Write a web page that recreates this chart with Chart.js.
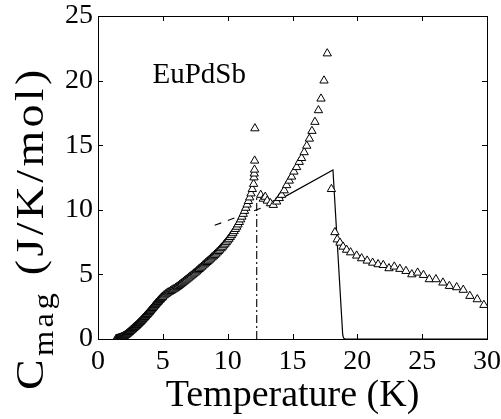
<!DOCTYPE html>
<html>
<head>
<meta charset="utf-8">
<title>EuPdSb magnetic specific heat</title>
<script src="https://cdn.jsdelivr.net/npm/chart.js@4/dist/chart.umd.min.js"></script>
<style>
  html, body { margin: 0; padding: 0; background: #fff; }
  #wrap { width: 501px; height: 419px; position: relative; }
</style>
</head>
<body>
<div id="wrap"><canvas id="cmag"></canvas></div>
<script>
// measured data, dense low-T run (K, J/K/mol)
const lowT = [1.40,1.45,1.50,1.55,1.60,1.65,1.70,1.75,1.80,1.85,1.90,1.95,2.00,2.05,2.10,2.15,2.20,2.25,2.30,2.35,
  2.40,2.45,2.50,2.55,2.60,2.65,2.70,2.75,2.80,2.85,2.90,2.95,3.00,3.05,3.10,3.15,3.20,3.25,3.30,3.35,
  3.40,3.45,3.50,3.55,3.60,3.65,3.70,3.75,3.80,3.85,3.90,3.95,4.00,4.05,4.10,4.15,4.20,4.25,4.30,4.35,
  4.40,4.45,4.50,4.55,4.60,4.65,4.70,4.75,4.80,4.85,4.90,4.95,
  5.0,5.1,5.2,5.3,5.4,5.5,5.6,5.7,5.8,5.9,6.0,6.1,6.2,6.3,6.4,6.5,6.6,6.7,6.8,6.9,
  7.0,7.1,7.2,7.3,7.4,7.5,7.6,7.7,7.8,7.9,8.0,8.1,8.2,8.3,8.4,8.5,8.6,8.7,8.8,8.9,
  9.0,9.1,9.2,9.3,9.4,9.5,9.6,9.7,9.8,9.9,10.0,10.1,10.2,10.3,10.4,10.5,10.6,10.7,10.8,10.9,
  11.0,11.1,11.2,11.3,11.4,11.5,11.6,11.7,11.8,11.9,12.0,12.03,12.05,12.07,12.08,12.1];
const lowC = [0.00,0.01,0.02,0.03,0.05,0.06,0.08,0.10,0.12,0.14,0.17,0.19,0.22,0.25,0.29,0.32,0.36,0.40,0.44,0.48,
  0.53,0.57,0.62,0.66,0.71,0.75,0.80,0.84,0.89,0.93,0.98,1.02,1.07,1.12,1.17,1.22,1.27,1.32,1.37,1.42,
  1.48,1.53,1.59,1.64,1.70,1.75,1.81,1.86,1.92,1.97,2.03,2.09,2.15,2.21,2.27,2.33,2.39,2.45,2.51,2.57,
  2.63,2.69,2.75,2.80,2.86,2.91,2.97,3.02,3.08,3.13,3.18,3.23,
  3.28,3.37,3.45,3.52,3.59,3.65,3.71,3.77,3.83,3.89,3.96,4.03,4.10,4.18,4.26,4.34,4.42,4.50,4.58,4.66,
  4.74,4.82,4.90,4.98,5.06,5.14,5.23,5.32,5.41,5.50,5.59,5.68,5.77,5.86,5.95,6.04,6.13,6.22,6.31,6.40,
  6.50,6.60,6.70,6.80,6.91,7.02,7.13,7.25,7.37,7.49,7.62,7.75,7.89,8.03,8.18,8.34,8.51,8.68,8.86,9.05,
  9.25,9.46,9.68,9.91,10.15,10.40,10.67,10.95,11.26,11.60,12.0,12.5,12.8,13.1,13.8,16.3];

// measured data above the first transition
const highT = [12.55,12.75,12.9,13.05,13.3,13.52,13.78,13.98,14.16,14.36,14.55,14.75,14.93,15.11,15.32,15.52,
  15.7,15.9,16.1,16.3,16.5,16.73,17.0,17.2,17.43,17.68,18.0,18.27,18.45,18.66,18.9,19.17,19.48,19.95,
  20.33,20.76,21.18,21.6,22.0,22.44,22.85,23.28,23.75,24.2,24.65,25.1,25.55,26.06,26.6,27.1,27.66,
  28.17,28.68,29.25,29.76];
const highC = [11.15,10.85,11.0,10.7,10.5,10.37,10.63,10.9,11.15,11.5,11.9,12.25,12.56,12.95,13.3,13.7,
  14.0,14.45,14.95,15.5,16.1,16.8,17.7,18.6,20.0,22.1,11.6,8.26,7.7,7.45,7.14,6.9,6.7,6.45,
  6.24,6.06,5.9,5.78,5.72,5.47,5.6,5.42,5.26,5.0,5.13,4.95,4.62,4.62,4.36,4.1,4.0,
  3.8,3.33,3.07,2.63];

// model curve (solid) and its extrapolation below Tc (dashed)
const fitT = [13.3, 18.12, 18.87, 18.93, 19.05, 30];
const fitC = [10.4, 13.08, 0.35, 0.08, 0, 0];
const extrapT = [9.0, 13.3];
const extrapC = [8.8, 10.4];

// first transition marker (dash-dot)
const transitionT = 12.24;
const transitionC = [0, 11.1];

const label = 'EuPdSb';
const labelAt = [4.2, 19.85];

const SERIF = '"Liberation Serif", "Times New Roman", serif';

function pairs(xs, ys){ return xs.map((x, i) => ({ x: x, y: ys[i] })); }

// box round the plot with ticks pointing inward on all four sides
const framePlugin = {
  id: 'frame',
  afterDraw(chart){
    const { ctx, chartArea: a, scales } = chart;
    const len = 5;
    ctx.save();
    ctx.strokeStyle = '#000';
    ctx.lineWidth = 1;
    ctx.strokeRect(Math.round(a.left) + 0.5, Math.round(a.top) + 0.5,
      Math.round(a.right - a.left), Math.round(a.bottom - a.top));
    ctx.beginPath();
    scales.x.ticks.forEach(t => {
      const px = Math.round(scales.x.getPixelForValue(t.value)) + 0.5;
      ctx.moveTo(px, a.bottom); ctx.lineTo(px, a.bottom - len);
      ctx.moveTo(px, a.top); ctx.lineTo(px, a.top + len);
    });
    scales.y.ticks.forEach(t => {
      const py = Math.round(scales.y.getPixelForValue(t.value)) + 0.5;
      ctx.moveTo(a.left, py); ctx.lineTo(a.left + len, py);
      ctx.moveTo(a.right, py); ctx.lineTo(a.right - len, py);
    });
    ctx.stroke();

    // sample name
    ctx.fillStyle = '#000';
    ctx.font = '29px ' + SERIF;
    ctx.textBaseline = 'alphabetic';
    ctx.fillText(label, scales.x.getPixelForValue(labelAt[0]), scales.y.getPixelForValue(labelAt[1]));

    // y title with subscript, rotated; spaced out rather than stretched so strokes stay thin
    const big = '41px ' + SERIF, small = '29px ' + SERIF;
    ctx.letterSpacing = '3px';
    ctx.font = big; const wC = ctx.measureText('C').width;
    ctx.font = small; const wSub = ctx.measureText('mag').width;
    ctx.font = big; const wRest = ctx.measureText(' (J/K/mol)').width;
    const total = wC + wSub + wRest;
    const span = 330;
    ctx.translate(43, 390);
    ctx.rotate(-Math.PI / 2);
    ctx.scale(Math.min(1.12, span / total), 1);
    ctx.font = big; ctx.fillText('C', 0, 0);
    ctx.font = small; ctx.fillText('mag', wC, 10);
    ctx.font = big; ctx.fillText(' (J/K/mol)', wC + wSub, 0);
    ctx.restore();
  }
};

function init(){
  const el = document.getElementById('cmag');
  new Chart(el.getContext('2d'), {
    type: 'scatter',
    data: {
      datasets: [
        {
          label: 'data',
          data: pairs(lowT, lowC).concat(pairs(highT, highC)),
          pointStyle: 'triangle', pointRadius: 4.8, pointHoverRadius: 4.8,
          borderColor: '#000', backgroundColor: '#fff', borderWidth: 1,
          order: 0
        },
        {
          label: 'model',
          data: pairs(fitT, fitC),
          showLine: true, pointRadius: 0, borderColor: '#000', borderWidth: 1.2,
          order: 1
        },
        {
          label: 'extrapolation',
          data: pairs(extrapT, extrapC),
          showLine: true, pointRadius: 0, borderColor: '#000', borderWidth: 1.1,
          borderDash: [7, 7], order: 1
        },
        {
          label: 'Tc',
          data: transitionC.map(c => ({ x: transitionT, y: c })),
          showLine: true, pointRadius: 0, borderColor: '#000', borderWidth: 1.1,
          borderDash: [8, 3, 2, 3], order: 1
        }
      ]
    },
    options: {
      responsive: true, maintainAspectRatio: false, animation: false,
      layout: { padding: { top: 16, right: 14, left: 0, bottom: 0 } },
      plugins: { legend: { display: false }, tooltip: { enabled: false } },
      scales: {
        x: {
          type: 'linear', min: 0, max: 30,
          afterFit: s => { s.height = 80; s.paddingLeft = 0; s.paddingRight = 0; },
          grid: { display: false, drawTicks: false },
          border: { display: false },
          ticks: { stepSize: 5, color: '#000', padding: 6, font: { family: SERIF, size: 28 } },
          title: { display: true, text: 'Temperature (K)', color: '#000', padding: { top: 0, bottom: 0 },
                   font: { family: SERIF, size: 38 } }
        },
        y: {
          type: 'linear', min: 0, max: 25,
          afterFit: s => { s.width = 98; s.paddingTop = 0; s.paddingBottom = 0; },
          grid: { display: false, drawTicks: false },
          border: { display: false },
          ticks: { stepSize: 5, color: '#000', padding: 5, font: { family: SERIF, size: 28 } }
        }
      }
    },
    plugins: [framePlugin]
  });
}

if (document.readyState === 'loading') document.addEventListener('DOMContentLoaded', init);
else init();
</script>
</body>
</html>
